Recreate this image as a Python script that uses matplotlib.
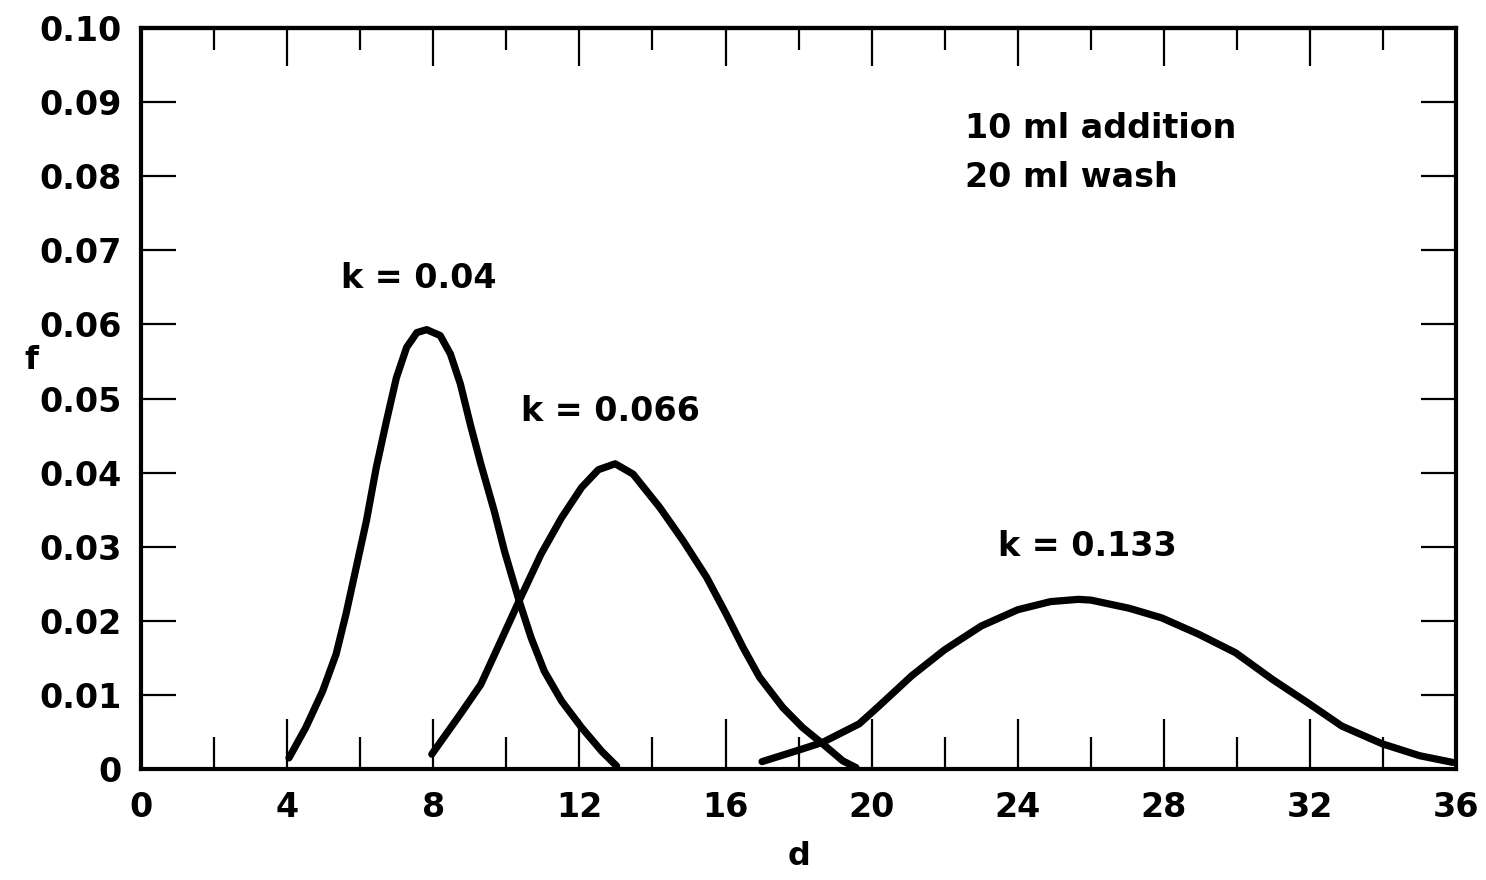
import matplotlib

matplotlib.use("Agg")
import matplotlib.pyplot as plt
from matplotlib.ticker import MultipleLocator, FixedLocator

# values
d_k004 = [4.05, 4.51, 4.97, 5.34, 5.61, 5.89, 6.17, 6.44, 6.72, 6.99, 7.27, 7.55,
          7.82, 8.19, 8.47, 8.74, 9.02, 9.30, 9.67, 9.95, 10.35, 10.68, 11.04,
          11.51, 12.06, 12.61, 13.02]
f_k004 = [0.0015, 0.0056, 0.0105, 0.0155, 0.0209, 0.0272, 0.0335, 0.0407, 0.0470,
          0.0528, 0.0569, 0.0589, 0.0593, 0.0585, 0.0560, 0.0520, 0.0464, 0.0412,
          0.0348, 0.0294, 0.0227, 0.0177, 0.0132, 0.0092, 0.0056, 0.0024, 0.0004]

d_k0066 = [7.96, 8.74, 9.30, 9.85, 10.35, 10.95, 11.51, 12.06, 12.52, 12.98, 13.47,
           14.20, 14.84, 15.48, 16.02, 16.48, 16.93, 17.57, 18.11, 18.66, 19.21, 19.57]
f_k0066 = [0.0020, 0.0074, 0.0114, 0.0173, 0.0227, 0.0290, 0.0339, 0.0380, 0.0404,
           0.0412, 0.0398, 0.0353, 0.0308, 0.0259, 0.0209, 0.0164, 0.0124, 0.0083,
           0.0056, 0.0034, 0.0011, 0.0002]

d_k0133 = [17.0, 17.97, 18.66, 19.66, 20.2, 21.1, 22.0, 23.0, 24.0, 24.9, 25.66, 26.0,
           27.05, 27.94, 28.95, 29.96, 30.97, 31.92, 32.87, 33.98, 35.0, 35.9]
f_k0133 = [0.0010, 0.0025, 0.0036, 0.0061, 0.0085, 0.0126, 0.0161, 0.0193, 0.0215,
           0.0226, 0.0229, 0.0228, 0.0217, 0.0204, 0.0182, 0.0157, 0.0121, 0.0090,
           0.0058, 0.0034, 0.0018, 0.0009]

x_labels = [0, 4, 8, 12, 16, 20, 24, 28, 32, 36]
y_ticks = [0, 0.01, 0.02, 0.03, 0.04, 0.05, 0.06, 0.07, 0.08, 0.09, 0.10]
y_labels = ["0", "0.01", "0.02", "0.03", "0.04", "0.05", "0.06", "0.07", "0.08", "0.09", "0.10"]

plt.rcParams["font.family"] = "DejaVu Sans"
plt.rcParams["font.weight"] = "bold"

fig = plt.figure(figsize=(14.86, 8.8), dpi=100)
ax = fig.add_axes([0.0949, 0.1261, 0.885, 0.842])

for d, f in [(d_k004, f_k004), (d_k0066, f_k0066), (d_k0133, f_k0133)]:
    ax.plot(d, f, color="black", lw=5.2, solid_capstyle="round", solid_joinstyle="round")

ax.set_xlim(0, 36)
ax.set_ylim(0, 0.10)

for s in ax.spines.values():
    s.set_linewidth(3)

ax.xaxis.set_major_locator(FixedLocator(x_labels))
ax.xaxis.set_minor_locator(MultipleLocator(2))
ax.set_xticklabels([str(v) for v in x_labels])
ax.set_yticks(y_ticks)
ax.set_yticklabels(y_labels)

ax.tick_params(axis="x", which="major", direction="in", length=36, width=1.6,
               labelsize=24, pad=16, top=False)
ax.tick_params(axis="x", which="minor", direction="in", length=23, width=1.6, top=False)
ax.tick_params(axis="y", direction="in", length=25, width=1.6, labelsize=24,
               pad=14, right=True)

# top axis has its own, shorter ticks
top = ax.secondary_xaxis("top")
top.xaxis.set_major_locator(FixedLocator(x_labels))
top.xaxis.set_minor_locator(MultipleLocator(2))
top.tick_params(which="major", direction="in", length=27, width=1.6, labeltop=False)
top.tick_params(which="minor", direction="in", length=16, width=1.6)
top.spines["top"].set_linewidth(3)

ax.set_xlabel("d", fontsize=23, fontweight="bold", labelpad=12)
ax.set_ylabel("f", fontsize=23, fontweight="bold", rotation=0, labelpad=14)
ax.yaxis.set_label_coords(-0.083, 0.53)

ax.text(7.6, 0.0662, "k = 0.04", fontsize=24, ha="center", va="center")
ax.text(12.85, 0.0482, "k = 0.066", fontsize=24, ha="center", va="center")
ax.text(25.9, 0.0300, "k = 0.133", fontsize=24, ha="center", va="center")
ax.text(22.55, 0.0864, "10 ml addition", fontsize=24, ha="left", va="center")
ax.text(22.55, 0.0799, "20 ml wash", fontsize=24, ha="left", va="center")

fig.savefig("out.png", dpi=100)
